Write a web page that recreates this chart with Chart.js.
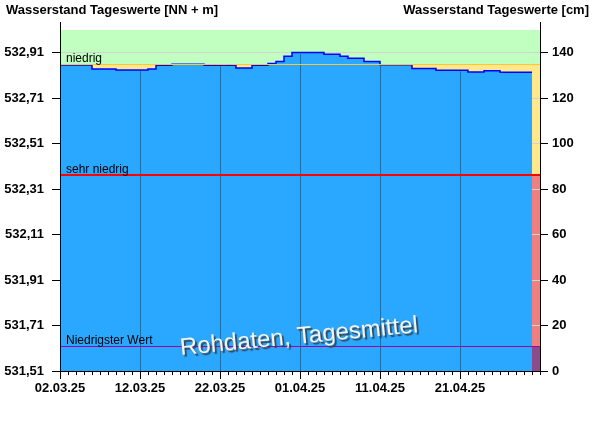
<!DOCTYPE html>
<html>
<head>
<meta charset="utf-8">
<script src="https://cdn.jsdelivr.net/npm/chart.js@4"></script>
<style>
  body { margin: 0; background: #fff; }
  canvas { display: block; }
</style>
</head>
<body>
<canvas id="pegel" width="600" height="426"></canvas>
<script>
// Tagesmittel in cm, ab 02.03.25 (ein Wert pro Tag)
const dailyCm = [
    134.6, 134.6, 134.6, 134.6, 132.8, 132.8, 132.8, 132.4, 132.4, 132.4,
    132.4, 132.8, 134.5, 134.5, 134.9, 134.9, 134.9, 134.9, 134.5, 134.5,
    134.5, 134.5, 133.3, 133.3, 134.5, 134.5, 135.3, 136.1, 138.4, 140.1,
    140.1, 140.1, 140.1, 139.3, 139.3, 138.4, 137.6, 137.6, 136.1, 136.1,
    134.7, 134.7, 134.7, 134.7, 133.1, 133.1, 133.1, 132.3, 132.3, 132.3,
    132.3, 131.5, 131.5, 132.1, 132.1, 131.4, 131.4, 131.4, 131.4
];
const dateLabels = ['02.03.25', '12.03.25', '22.03.25', '01.04.25', '11.04.25', '21.04.25'];
const cmTicks = [0, 20, 40, 60, 80, 100, 120, 140];
const nnTicks = [531.51, 531.71, 531.91, 532.11, 532.31, 532.51, 532.71, 532.91];
const levelNames = ['niedrig', 'sehr niedrig', 'Niedrigster Wert'];
const levelCm = [135, 86, 11];

const zeroNN = 531.51;
const cmMax = 150;
const dayCount = 60;

const FONT = "'Liberation Sans', Arial, sans-serif";
Chart.defaults.color = '#000';
Chart.defaults.font.family = FONT;

// punkt am ende, damit der letzte tag eine volle stufe bekommt
const points = dailyCm.map((v, i) => ({x: i, y: v}));
points.push({x: dailyCm.length, y: dailyCm[dailyCm.length - 1]});

const bandColors = ['#c0ffc0', '#ffe88c', '#f08080', '#8c4c8c'];
const lineColors = ['#ffc832', '#ff0000', '#a000a0'];
const lineWidths = [1, 2, 1];

const pegelPlugin = {
    id: 'pegel',
    beforeDraw(chart) {
        const {ctx, chartArea: a} = chart;
        const y = chart.scales.yR;
        const edges = [cmMax, ...levelCm, 0];
        ctx.save();
        for (let i = 0; i < bandColors.length; i++) {
            const top = y.getPixelForValue(edges[i]);
            const bottom = y.getPixelForValue(edges[i + 1]);
            ctx.fillStyle = bandColors[i];
            ctx.fillRect(a.left, top, a.right - a.left, bottom - top);
        }
        ctx.restore();
    },
    afterDatasetsDraw(chart) {
        const {ctx, chartArea: a} = chart;
        const x = chart.scales.x;
        const y = chart.scales.yR;
        ctx.save();
        // senkrechte linien nur im wasser
        ctx.strokeStyle = '#33678c';
        ctx.lineWidth = 1;
        for (let d = 10; d < dayCount; d += 10) {
            const px = Math.round(x.getPixelForValue(d)) + 0.5;
            const top = y.getPixelForValue(dailyCm[d]);
            ctx.beginPath();
            ctx.moveTo(px, top + 1);
            ctx.lineTo(px, a.bottom);
            ctx.stroke();
        }
        // lange striche an den datumsmarken
        ctx.strokeStyle = '#000';
        for (let d = 0; d < dayCount; d += 10) {
            const px = Math.round(x.getPixelForValue(d)) + 0.5;
            ctx.beginPath();
            ctx.moveTo(px, a.bottom);
            ctx.lineTo(px, a.bottom + 8);
            ctx.stroke();
        }
        // grenzlinien mit beschriftung
        ctx.font = '12px ' + FONT;
        ctx.textAlign = 'left';
        ctx.textBaseline = 'alphabetic';
        levelCm.forEach((v, i) => {
            const w = lineWidths[i];
            const py = Math.round(y.getPixelForValue(v)) + (w % 2 ? 0.5 : 0);
            ctx.strokeStyle = lineColors[i];
            ctx.lineWidth = w;
            ctx.beginPath();
            ctx.moveTo(a.left, py);
            ctx.lineTo(a.right, py);
            ctx.stroke();
            ctx.fillStyle = '#000';
            ctx.fillText(levelNames[i], a.left + 6, py - 2.5);
        });
        // wasserzeichen
        ctx.translate(299, 337);
        ctx.rotate(-5.5 * Math.PI / 180);
        ctx.font = '24px ' + FONT;
        ctx.textAlign = 'center';
        ctx.textBaseline = 'middle';
        ctx.shadowColor = 'rgba(60,60,60,0.9)';
        ctx.shadowOffsetX = 2;
        ctx.shadowOffsetY = 2;
        ctx.shadowBlur = 1;
        ctx.fillStyle = '#f4f4f4';
        ctx.fillText('Rohdaten, Tagesmittel', 0, 0);
        ctx.restore();
    },
    afterDraw(chart) {
        const {ctx, chartArea: a} = chart;
        ctx.save();
        ctx.strokeStyle = '#000';
        ctx.lineWidth = 1;
        [a.left, a.right].forEach(px => {
            ctx.beginPath();
            ctx.moveTo(Math.round(px) + 0.5, a.top - 8);
            ctx.lineTo(Math.round(px) + 0.5, a.top);
            ctx.stroke();
        });
        ctx.font = 'bold 13px ' + FONT;
        ctx.fillStyle = '#000';
        ctx.textBaseline = 'alphabetic';
        ctx.textAlign = 'left';
        ctx.fillText('Wasserstand Tageswerte [NN + m]', 6, 14);
        ctx.textAlign = 'right';
        ctx.fillText('Wasserstand Tageswerte [cm]', 589, 14);
        ctx.restore();
    }
};

new Chart(document.getElementById('pegel'), {
    type: 'line',
    data: {
        datasets: [{
            data: points,
            yAxisID: 'yR',
            stepped: true,
            fill: 'origin',
            backgroundColor: '#2aa7ff',
            borderColor: '#0000ff',
            borderWidth: 1.5,
            pointRadius: 0
        }]
    },
    options: {
        responsive: false,
        animation: false,
        layout: { padding: { top: 30, left: 0, right: 0, bottom: 0 } },
        plugins: {
            legend: { display: false },
            tooltip: { enabled: false }
        },
        scales: {
            x: {
                type: 'linear',
                min: 0,
                max: dayCount,
                afterFit: s => { s.height = 55; },
                grid: { drawOnChartArea: false, color: '#000', tickLength: 4 },
                border: { color: '#000', z: 1 },
                ticks: {
                    stepSize: 1,
                    autoSkip: false,
                    maxRotation: 0,
                    padding: 6,
                    font: { size: 13, weight: 'bold' },
                    callback: v => (v % 10 === 0 && dateLabels[v / 10]) || ''
                }
            },
            yL: {
                position: 'left',
                min: zeroNN,
                max: zeroNN + cmMax / 100,
                afterFit: s => { s.width = 60; },
                afterBuildTicks: s => { s.ticks = nnTicks.map(v => ({value: v})); },
                grid: { drawOnChartArea: false, color: '#000', tickLength: 8 },
                border: { color: '#000', z: 1 },
                ticks: {
                    padding: 8,
                    font: { size: 13, weight: 'bold' },
                    callback: v => v.toFixed(2).replace('.', ',')
                }
            },
            yR: {
                position: 'right',
                min: 0,
                max: cmMax,
                afterFit: s => { s.width = 60; },
                afterBuildTicks: s => { s.ticks = cmTicks.map(v => ({value: v})); },
                grid: { color: '#d2d2d2', tickColor: '#000', tickLength: 8 },
                border: { color: '#000', z: 1 },
                ticks: {
                    padding: 4,
                    font: { size: 13, weight: 'bold' }
                }
            }
        }
    },
    plugins: [pegelPlugin]
});
</script>
</body>
</html>
